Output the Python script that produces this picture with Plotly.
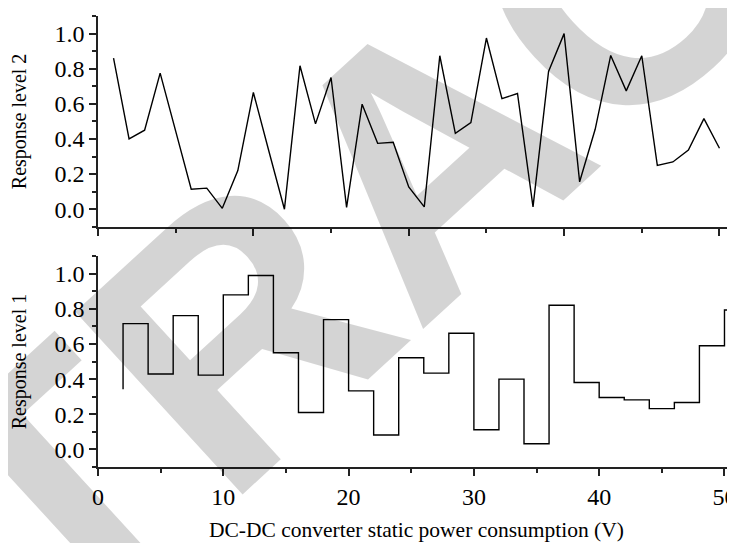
import plotly.graph_objects as go
from plotly.subplots import make_subplots

# Response level 2 (top panel), plotted against sample index
level2_index = [1, 2, 3, 4, 5, 6, 7, 8, 9, 10, 11, 12, 13, 14, 15, 16, 17, 18, 19, 20,
                21, 22, 23, 24, 25, 26, 27, 28, 29, 30, 31, 32, 33, 34, 35, 36, 37, 38, 39, 40]
level2_values = [0.86, 0.40, 0.45, 0.775, 0.445, 0.114, 0.12, 0.005, 0.22, 0.665,
                 0.33, 0.0, 0.817, 0.486, 0.75, 0.01, 0.598, 0.375, 0.381, 0.127,
                 0.013, 0.874, 0.432, 0.493, 0.975, 0.63, 0.659, 0.013, 0.785, 1.0,
                 0.156, 0.455, 0.876, 0.674, 0.874, 0.25, 0.269, 0.337, 0.516, 0.347]

# Response level 1 (bottom panel), step line vs DC-DC converter static power consumption (V)
level1_x = [2, 4, 6, 8, 10, 12, 14, 16, 18, 20, 22, 24, 26, 28, 30, 32, 34, 36, 38, 40,
            42, 44, 46, 48, 50, 52]
level1_values = [0.343, 0.716, 0.429, 0.762, 0.423, 0.88, 0.99, 0.55, 0.21, 0.739,
                 0.333, 0.082, 0.522, 0.434, 0.661, 0.112, 0.40, 0.032, 0.821, 0.381,
                 0.295, 0.282, 0.232, 0.267, 0.59, 0.794]

x_ticks = [0, 10, 20, 30, 40, 50]
y_ticks = [0.0, 0.2, 0.4, 0.6, 0.8, 1.0]
x_title = "DC-DC converter static power consumption (V)"

FONT = "Liberation Serif"
AXC = "#222222"

fig = make_subplots(rows=2, cols=1, shared_xaxes=False, vertical_spacing=0.065)

fig.add_trace(go.Scatter(x=level2_index, y=level2_values, mode="lines",
                         line=dict(color="black", width=1.4), showlegend=False), row=1, col=1)
fig.add_trace(go.Scatter(x=level1_x, y=level1_values, mode="lines",
                         line=dict(color="black", width=1.4, shape="vh"), showlegend=False), row=2, col=1)

common_axis = dict(showline=True, linecolor=AXC, linewidth=1.5, ticks="outside", ticklen=7,
                   tickwidth=1.5, tickcolor=AXC, showgrid=False, zeroline=False, automargin=False,
                   ticklabeloverflow="allow",
                   tickfont=dict(family=FONT, size=24, color="black"))

fig.update_xaxes(**common_axis, range=[0, 41], tick0=0, dtick=10, showticklabels=False,
                 minor=dict(ticks="outside", ticklen=4, tickwidth=1.5, tickcolor=AXC, dtick=5, tick0=0),
                 row=1, col=1)
fig.update_xaxes(**common_axis, range=[0, 50.84], tickvals=x_ticks,
                 ticktext=[str(v) for v in x_ticks],
                 minor=dict(ticks="outside", ticklen=4, tickwidth=1.5, tickcolor=AXC, dtick=5, tick0=0),
                 row=2, col=1)

for r, name in [(1, "Response level 2"), (2, "Response level 1")]:
    fig.update_yaxes(**common_axis, range=[-0.1005, 1.1005], tickvals=y_ticks,
                     ticktext=[f"{v:.1f}" for v in y_ticks],
                     minor=dict(ticks="outside", ticklen=4, tickwidth=1.5, tickcolor=AXC, dtick=0.1, tick0=0),
                     title=dict(text=name, font=dict(family=FONT, size=20, color="black"), standoff=24),
                     row=r, col=1)

# x-axis title, set low in the bottom margin as in the reference
fig.add_annotation(text=x_title, xref="paper", yref="paper", x=0.5, y=-0.139,
                   xanchor="center", yanchor="middle", showarrow=False,
                   font=dict(family=FONT, size=21.5, color="black"))

# Retraction watermark
fig.add_annotation(text="<b>RETRACTED</b>", xref="paper", yref="paper", x=0.518, y=0.6915,
                   xanchor="center", yanchor="middle", showarrow=False, textangle=-42.5,
                   font=dict(family="Liberation Sans", size=360, color="rgba(0,0,0,0.17)"))

# the page places the figure 8 px from the top-left corner, so the figure is
# sized and its margins are set to put the plot area where the reference has it
fig.update_layout(width=727, height=535, margin=dict(l=89.5, r=0, t=7.6, b=75.5),
                  plot_bgcolor="white", paper_bgcolor="white",
                  font=dict(family=FONT, color="black"))

fig.write_html("out.html")
